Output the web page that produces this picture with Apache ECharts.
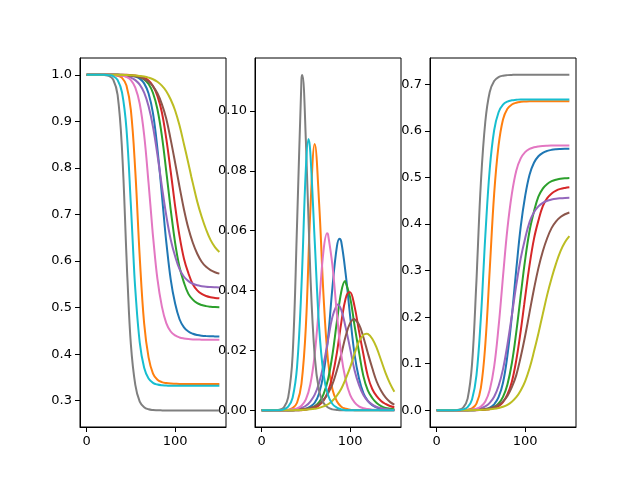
<!DOCTYPE html>
<html>
<head>
<meta charset="utf-8">
<script src="https://cdn.jsdelivr.net/npm/echarts@6/dist/echarts.min.js"></script>
<style>
  html, body { margin: 0; padding: 0; background: #fff; }
  #chart { width: 640px; height: 480px; }
</style>
</head>
<body>
<div id="chart"></div>
<script>
// time steps (days)
const t = [0,5,10,15,20,25,30,35,40,45,50,55,60,65,70,75,80,85,90,95,100,105,110,115,120,125,130,135,140,145,150];

const xTicks = [0, 100];
const sTicks = [0.3, 0.4, 0.5, 0.6, 0.7, 0.8, 0.9, 1.0];
const iTicks = [0, 0.02, 0.04, 0.06, 0.08, 0.1];
const rTicks = [0, 0.1, 0.2, 0.3, 0.4, 0.5, 0.6, 0.7];

// S - susceptible
const sBlue   = [1,1,1,1,1,1,1,1,0.9997,0.9993,0.9984,0.9963,0.9918,0.9816,0.9597,0.917,0.8412,0.7432,0.6411,0.5606,0.5086,0.475,0.4575,0.4485,0.4437,0.441,0.4395,0.4387,0.4383,0.4381,0.4379];
const sOrange = [1,1,1,1,1,1,0.9995,0.998,0.9935,0.977,0.924,0.7925,0.609,0.466,0.393,0.3584,0.345,0.34,0.3378,0.3367,0.3363,0.336,0.336,0.336,0.336,0.336,0.336,0.336,0.336,0.336,0.336];
const sGreen  = [1,1,1,1,1,1,1,1,1,0.9995,0.9989,0.9977,0.9952,0.9902,0.9801,0.961,0.926,0.8695,0.7926,0.7106,0.6392,0.5866,0.5536,0.5295,0.517,0.5095,0.5054,0.5031,0.5018,0.501,0.5006];
const sRed    = [1,1,1,1,1,1,1,1,1,1,0.9992,0.9983,0.9969,0.9937,0.9878,0.9762,0.9548,0.9197,0.8629,0.7923,0.718,0.6534,0.6051,0.5738,0.5501,0.5371,0.5293,0.5248,0.5222,0.5208,0.5198];
const sPurple = [1,1,1,1,1,1,1,0.9991,0.9983,0.9968,0.9939,0.9886,0.9788,0.9617,0.9325,0.8883,0.8278,0.7611,0.6978,0.6464,0.6102,0.5824,0.5662,0.5569,0.5512,0.5478,0.546,0.5447,0.5441,0.5437,0.5434];
const sBrown  = [1,1,1,1,1,1,1,1,0.9993,0.9988,0.998,0.9967,0.9945,0.991,0.985,0.9753,0.9605,0.9371,0.9058,0.8607,0.8112,0.7593,0.7108,0.6702,0.6392,0.6157,0.5985,0.5875,0.5806,0.576,0.573];
const sPink   = [1,1,1,1,1,0.9999,0.9997,0.9991,0.9981,0.9952,0.9885,0.9725,0.9378,0.8707,0.767,0.6535,0.5614,0.5026,0.4666,0.4487,0.4402,0.4358,0.4336,0.4323,0.4316,0.4313,0.4311,0.431,0.431,0.431,0.431];
const sGray   = [1,1,1,0.9999,0.9995,0.9979,0.99,0.957,0.839,0.6115,0.421,0.334,0.298,0.286,0.2815,0.28,0.2795,0.2792,0.279,0.279,0.279,0.279,0.279,0.279,0.279,0.279,0.279,0.279,0.279,0.279,0.279];
const sOlive  = [1,1,1,1,1,1,1,1,0.9996,0.9994,0.999,0.9985,0.9976,0.9962,0.9939,0.9905,0.985,0.9767,0.9648,0.9469,0.9234,0.8909,0.851,0.8096,0.7673,0.7276,0.695,0.6677,0.6454,0.63,0.6196];
const sCyan   = [1,1,1,1,1,0.9992,0.997,0.989,0.962,0.884,0.72,0.539,0.4255,0.3706,0.3476,0.3383,0.3346,0.333,0.3325,0.332,0.332,0.332,0.332,0.332,0.332,0.332,0.332,0.332,0.332,0.332,0.332];

// I - infected
const iBlue   = [0,0,0,0,0,0,0,0,0.0001,0.0002,0.0005,0.0012,0.0025,0.0057,0.0123,0.024,0.041,0.0546,0.0563,0.0455,0.0315,0.0187,0.0107,0.0057,0.0031,0.0017,0.0009,0.0005,0.0003,0.0001,0.0001];
const iOrange = [0,0,0,0,0,0,0.0002,0.0007,0.0025,0.0088,0.0281,0.0665,0.089,0.069,0.038,0.0166,0.007,0.003,0.0012,0.0005,0.0002,0,0,0,0,0,0,0,0,0,0];
const iGreen  = [0,0,0,0,0,0,0,0,0,0.0001,0.0003,0.0006,0.0013,0.0027,0.0054,0.0103,0.0185,0.0295,0.0396,0.0427,0.0377,0.0283,0.0195,0.0114,0.0066,0.0041,0.0024,0.0014,0.0008,0.0005,0.0003];
const iRed    = [0,0,0,0,0,0,0,0,0,0,0.0002,0.0005,0.0008,0.0017,0.0032,0.0062,0.0114,0.0191,0.0293,0.0374,0.0394,0.0347,0.0265,0.0187,0.0114,0.0071,0.0047,0.0031,0.0021,0.0014,0.001];
const iPurple = [0,0,0,0,0,0,0,0.0002,0.0004,0.0008,0.0015,0.0029,0.0052,0.0092,0.0154,0.0234,0.0312,0.0352,0.0335,0.0276,0.0206,0.0134,0.0085,0.0051,0.0031,0.0019,0.0011,0.0007,0.0004,0.0002,0.0001];
const iBrown  = [0,0,0,0,0,0,0,0,0.0002,0.0003,0.0005,0.0008,0.0013,0.0021,0.0035,0.0056,0.0087,0.0133,0.0187,0.0248,0.0291,0.0304,0.0287,0.0244,0.0191,0.0141,0.0096,0.0065,0.0043,0.0028,0.0019];
const iPink   = [0,0,0,0,0,0,0.0001,0.0003,0.0006,0.0015,0.0036,0.0086,0.0187,0.0356,0.0535,0.0588,0.0484,0.0325,0.0185,0.0101,0.0051,0.0026,0.0013,0.0007,0.0004,0.0002,0.0001,0,0,0,0];
const iGray   = [0,0,0,0.0001,0.0002,0.0009,0.0043,0.0183,0.0618,0.1105,0.09,0.046,0.018,0.0064,0.0024,0.0009,0.0003,0.0001,0,0,0,0,0,0,0,0,0,0,0,0,0];
const iOlive  = [0,0,0,0,0,0,0,0,0.0001,0.0001,0.0002,0.0003,0.0005,0.0008,0.0013,0.002,0.0032,0.0049,0.0072,0.0105,0.0143,0.0189,0.023,0.0252,0.0255,0.0239,0.0208,0.0167,0.0125,0.009,0.0062];
const iCyan   = [0,0,0,0,0,0.0003,0.0012,0.0042,0.0144,0.0413,0.0809,0.0862,0.0565,0.0277,0.0119,0.0051,0.0021,0.0009,0.0003,0,0,0,0,0,0,0,0,0,0,0,0];

// R - recovered
const rBlue   = [0,0,0,0,0,0,0,0,0.0002,0.0005,0.0011,0.0025,0.0057,0.0127,0.028,0.059,0.1178,0.2022,0.3026,0.3939,0.4599,0.5063,0.5318,0.5458,0.5532,0.5573,0.5596,0.5608,0.5614,0.5618,0.562];
const rOrange = [0,0,0,0,0,0,0.0003,0.0011,0.004,0.0142,0.048,0.141,0.302,0.465,0.569,0.625,0.648,0.657,0.661,0.6628,0.6635,0.664,0.664,0.664,0.664,0.664,0.664,0.664,0.664,0.664,0.664];
const rGreen  = [0,0,0,0,0,0,0,0,0,0.0004,0.0008,0.0017,0.0035,0.0071,0.0145,0.0287,0.0555,0.101,0.1678,0.2467,0.3231,0.3851,0.4269,0.4591,0.4764,0.4864,0.4922,0.4955,0.4974,0.4985,0.4991];
const rRed    = [0,0,0,0,0,0,0,0,0,0,0.0006,0.0012,0.0023,0.0046,0.009,0.0176,0.0338,0.0612,0.1078,0.1703,0.2426,0.3119,0.3684,0.4075,0.4385,0.4558,0.466,0.4721,0.4757,0.4778,0.4792];
const rPurple = [0,0,0,0,0,0,0,0.0007,0.0013,0.0024,0.0046,0.0085,0.016,0.0291,0.0521,0.0883,0.141,0.2037,0.2687,0.326,0.3692,0.4042,0.4253,0.438,0.4457,0.4503,0.4529,0.4546,0.4555,0.4561,0.4565];
const rBrown  = [0,0,0,0,0,0,0,0,0.0005,0.0009,0.0015,0.0025,0.0042,0.0069,0.0115,0.0191,0.0308,0.0496,0.0755,0.1145,0.1597,0.2103,0.2605,0.3054,0.3417,0.3702,0.3919,0.406,0.4151,0.4212,0.4251];
const rPink   = [0,0,0,0,0,0.0001,0.0002,0.0006,0.0013,0.0033,0.0079,0.0189,0.0435,0.0937,0.1795,0.2877,0.3902,0.4649,0.5149,0.5412,0.5547,0.5616,0.5651,0.567,0.568,0.5685,0.5688,0.569,0.569,0.569,0.569];
const rGray   = [0,0,0,0.0001,0.0003,0.0012,0.0057,0.025,0.099,0.278,0.489,0.62,0.684,0.7074,0.716,0.719,0.7202,0.7207,0.721,0.721,0.721,0.721,0.721,0.721,0.721,0.721,0.721,0.721,0.721,0.721,0.721];
const rOlive  = [0,0,0,0,0,0,0,0,0.0003,0.0005,0.0008,0.0012,0.0019,0.003,0.0048,0.0075,0.0118,0.0184,0.028,0.0426,0.0623,0.0902,0.126,0.165,0.2071,0.2485,0.2842,0.3156,0.3421,0.361,0.374];
const rCyan   = [0,0,0,0,0,0.0005,0.0018,0.0066,0.0233,0.0749,0.199,0.3746,0.518,0.6017,0.6405,0.6566,0.6633,0.6661,0.6672,0.668,0.668,0.668,0.668,0.668,0.668,0.668,0.668,0.668,0.668,0.668,0.668];

// the epidemic peak of each run
// order: blue, orange, green, red, purple, brown, pink, gray, olive, cyan
const peakT = [88, 60, 94.3, 98.9, 86, 104.6, 74, 46, 118.3, 53];
const peakS = [0.68, 0.609, 0.722, 0.7343, 0.7477, 0.7634, 0.6756, 0.5654, 0.7812, 0.606];
const peakI = [0.0573, 0.089, 0.0432, 0.0394, 0.0353, 0.0305, 0.0591, 0.112, 0.0256, 0.0906];
const peakR = [0.2627, 0.302, 0.2352, 0.2263, 0.217, 0.2061, 0.2653, 0.3226, 0.1929, 0.3035];

const colors = ['#1f77b4','#ff7f0e','#2ca02c','#d62728','#9467bd','#8c564b','#e377c2','#7f7f7f','#bcbd22','#17becf'];
const panels = [
  [sBlue, sOrange, sGreen, sRed, sPurple, sBrown, sPink, sGray, sOlive, sCyan],
  [iBlue, iOrange, iGreen, iRed, iPurple, iBrown, iPink, iGray, iOlive, iCyan],
  [rBlue, rOrange, rGreen, rRed, rPurple, rBrown, rPink, rGray, rOlive, rCyan]
];
const peaks = [peakS, peakI, peakR];

const font = { color: '#000', fontSize: 13, fontFamily: 'DejaVu Sans' };
const chart = echarts.init(document.getElementById('chart'), null, { renderer: 'canvas' });

const lefts = [80, 255, 430];
const grids = lefts.map(l => ({
  left: l, top: 58, width: 146, height: 369,
  show: true, borderColor: '#000', borderWidth: 1, backgroundColor: '#fff'
}));

const xAxes = lefts.map((l, k) => ({
  type: 'value', gridIndex: k, min: -7.5, max: 157.5,
  splitLine: { show: false },
  axisLine: { onZero: false, lineStyle: { color: '#000', width: 1 } },
  axisTick: { customValues: xTicks, length: 5, lineStyle: { color: '#000' } },
  axisLabel: Object.assign({ customValues: xTicks, margin: 8 }, font)
}));

const yConf = [
  { min: 0.2435, max: 1.0361, ticks: sTicks, d: 1 },
  { min: -0.0056, max: 0.1177, ticks: iTicks, d: 2 },
  { min: -0.036, max: 0.757, ticks: rTicks, d: 1 }
];
const yAxes = yConf.map((c, k) => ({
  type: 'value', gridIndex: k, min: c.min, max: c.max,
  splitLine: { show: false },
  axisLine: { onZero: false, lineStyle: { color: '#000', width: 1 } },
  axisTick: { customValues: c.ticks, length: 5, lineStyle: { color: '#000' } },
  axisLabel: Object.assign({ customValues: c.ticks, margin: 8,
    formatter: v => Number(v).toFixed(c.d) }, font)
}));

const series = [];
panels.forEach((list, k) => {
  list.forEach((vals, j) => {
    const pts = t.map((x, n) => [x, vals[n]]);
    if (t.indexOf(peakT[j]) < 0) pts.push([peakT[j], peaks[k][j]]);
    pts.sort((a, b) => a[0] - b[0]);
    series.push({
      type: 'line', xAxisIndex: k, yAxisIndex: k,
      data: pts,
      showSymbol: false, symbol: 'none', smooth: 0.4,
      lineStyle: { color: colors[j], width: 2 },
      itemStyle: { color: colors[j] },
      z: 2 + j
    });
  });
});

chart.setOption({
  animation: false,
  backgroundColor: '#fff',
  grid: grids,
  xAxis: xAxes,
  yAxis: yAxes,
  series: series
});
</script>
</body>
</html>
